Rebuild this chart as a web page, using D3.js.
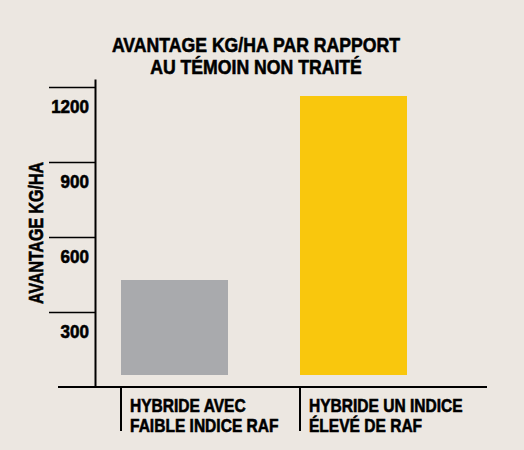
<!DOCTYPE html>
<html>
<head>
<meta charset="utf-8">
<script src="https://cdn.jsdelivr.net/npm/d3@7"></script>
<style>
  body { margin: 0; background: #ece7e1; }
  svg { display: block; }
  text { font-family: "Liberation Sans", Arial, sans-serif; font-weight: bold; fill: #000; stroke: #000; stroke-width: 0.6px; }
</style>
</head>
<body>
<div id="chart-area"></div>
<script>
// Data
var categories = ["faible", "eleve"];
var categoryLabels = [["HYBRIDE AVEC", "FAIBLE INDICE RAF"], ["HYBRIDE UN INDICE", "ÉLEVÉ DE RAF"]];
var values = [428, 1164];
var barColors = ["#a9aaad", "#f9c70d"];
var yTicks = [300, 600, 900, 1200];
var titleLines = ["AVANTAGE KG/HA PAR RAPPORT", "AU TÉMOIN NON TRAITÉ"];
var yTitle = "AVANTAGE KG/HA";

var width = 524, height = 450;

var svg = d3.select("#chart-area").append("svg").attr("width", width).attr("height", height);
svg.append("rect").attr("width", width).attr("height", height).attr("fill", "#ece7e1");

// squeeze text to look like a condensed face
function squeeze(sel, k) {
  sel.each(function() {
    var w = this.getComputedTextLength();
    d3.select(this).attr("textLength", w * k).attr("lengthAdjust", "spacingAndGlyphs");
  });
}

// Scales
var x = d3.scaleBand().domain(categories).range([121, 407]).paddingInner(0.4022).paddingOuter(0);
var y = d3.scaleLinear().domain([0, 1232]).range([387, 79]);
var barGap = 12;

// Title
var title = svg.append("g").selectAll("text").data(titleLines).enter().append("text")
  .attr("x", 256).attr("y", (d, i) => 52 + i * 21.5)
  .attr("text-anchor", "middle").style("font-size", "21px").text(d => d);
squeeze(title, 0.84);

// Y axis
var yAxisGroup = svg.append("g").attr("transform", "translate(95,0)")
  .call(d3.axisLeft(y).tickValues(yTicks).tickSize(46).tickSizeOuter(0).tickFormat(d3.format("d")));
yAxisGroup.attr("font-family", null).attr("font-size", null);
yAxisGroup.select(".domain").attr("stroke", "#000").attr("stroke-width", 2);
yAxisGroup.selectAll(".tick line").attr("stroke", "#000").attr("stroke-width", 1.5);
var tickText = yAxisGroup.selectAll(".tick text")
  .attr("x", -6).attr("dy", 25).attr("fill", "#000")
  .style("font-size", "18.5px").style("font-weight", "bold");
squeeze(tickText, 0.92);

// Y title
var yt = svg.append("text").attr("transform", "translate(43,233) rotate(-90)")
  .attr("text-anchor", "middle").style("font-size", "21px").text(yTitle);
squeeze(yt, 0.76);

// Bars
svg.append("g").selectAll("rect").data(values).enter().append("rect")
  .attr("x", (d, i) => x(categories[i]))
  .attr("y", d => y(d))
  .attr("width", x.bandwidth())
  .attr("height", d => y(0) - barGap - y(d))
  .attr("fill", (d, i) => barColors[i]);

// X axis line
svg.append("line").attr("x1", 58).attr("x2", 487).attr("y1", y(0)).attr("y2", y(0))
  .attr("stroke", "#000").attr("stroke-width", 2);

// Category separators + labels
var cat = svg.append("g").selectAll("g").data(categories).enter().append("g")
  .attr("transform", d => "translate(" + x(d) + "," + y(0) + ")");
cat.append("line").attr("x1", 0).attr("x2", 0).attr("y1", 0).attr("y2", 44)
  .attr("stroke", "#000").attr("stroke-width", 2);
var catText = cat.selectAll("text").data((d, i) => categoryLabels[i]).enter().append("text")
  .attr("x", 9).attr("y", (d, i) => 25 + i * 20)
  .style("font-size", "18.5px").text(d => d);
squeeze(catText, 0.84);
</script>
</body>
</html>
